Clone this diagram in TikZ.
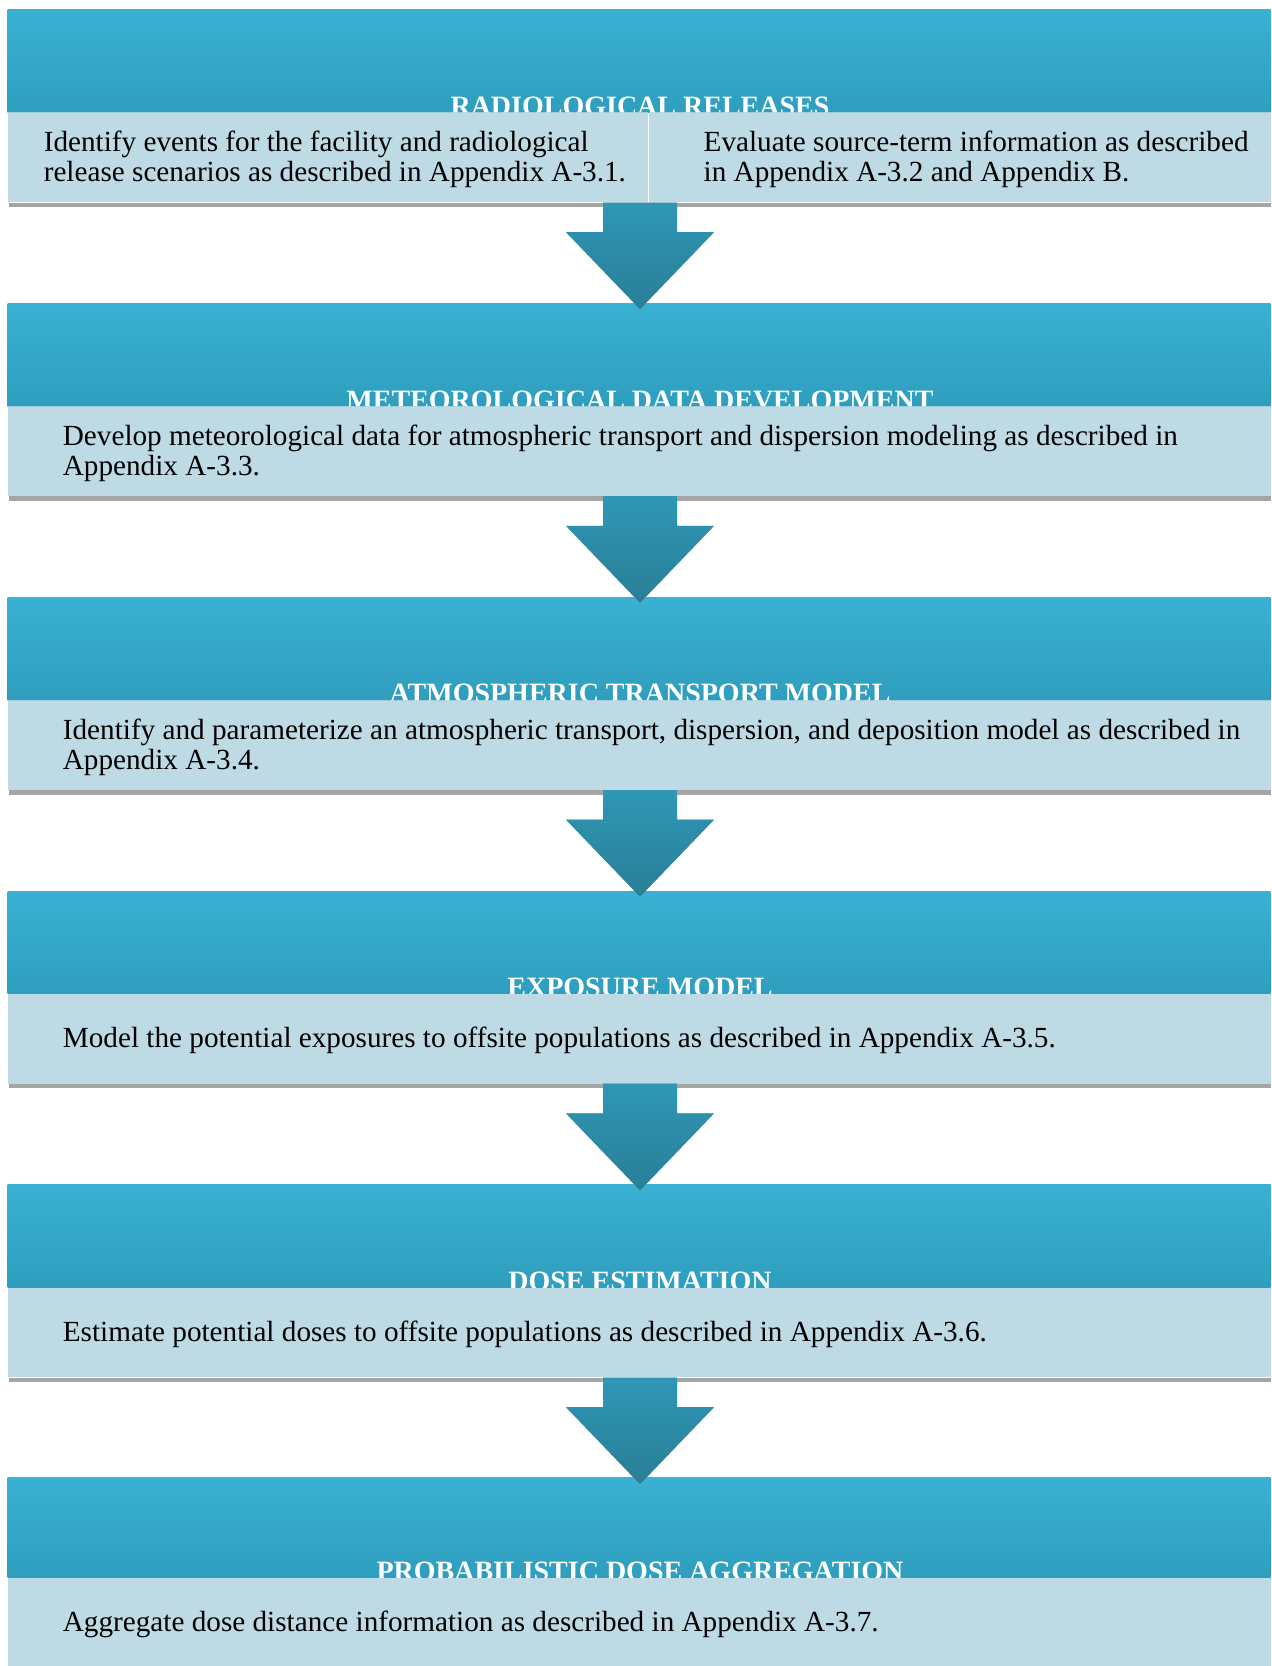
\documentclass[tikz,border=0pt]{standalone}
\usepackage{fontspec}
\setmainfont{Liberation Serif}
\usetikzlibrary{calc}
\definecolor{hdtop}{RGB}{57,177,211}
\definecolor{hdbot}{RGB}{47,158,190}
\definecolor{lite}{RGB}{179,213,224}
\definecolor{arrtop}{RGB}{47,151,181}
\definecolor{arrbot}{RGB}{41,126,151}
\definecolor{shad}{RGB}{165,165,165}
\tikzset{
  hdr/.style={top color=hdtop, bottom color=hdbot, draw=none, anchor=north west, inner sep=0, minimum width=1263bp},
  litebox/.style={fill=lite, fill opacity=0.85, draw=none, anchor=north west, inner sep=0, minimum height=89.8bp},
  shadowstrip/.style={fill=shad, draw=none},
  hdtext/.style={font=\fontsize{28bp}{30bp}\selectfont\bfseries, text=white, anchor=base, inner sep=0},
  bodytext/.style={font=\fontsize{29.2bp}{30bp}\selectfont, anchor=base west, align=left, inner sep=0},
  arrowbody/.style={top color=arrtop, bottom color=arrbot, draw=none},
  arrowshadow/.style={fill=shad, draw=none},
}
\newcommand\dnarrow[1]{%
  \path[arrowshadow, shift={(0,4.5)}] (#1) ++(-37,0) -- ++(74,0) -- ++(0,29.7) -- ++(37,0) -- ++(-74,77) -- ++(-74,-77) -- ++(37,0) -- cycle;
  \path[arrowbody] (#1) ++(-37,0) -- ++(74,0) -- ++(0,29.7) -- ++(37,0) -- ++(-74,77) -- ++(-74,-77) -- ++(37,0) -- cycle;
}
\begin{document}
\begin{tikzpicture}[x=1bp,y=-1bp]
\useasboundingbox (0,0) rectangle (1271,1666);
\coordinate (ax) at (640,0);
% headers
\node[hdr, minimum height=103bp] (h1) at (7.5,9.3) {};
\node[hdr, minimum height=103bp] (h2) at (7.5,303) {};
\node[hdr, minimum height=103bp] (h3) at (7.5,596.8) {};
\node[hdr, minimum height=102.7bp] (h4) at (7.5,890.8) {};
\node[hdr, minimum height=102.7bp] (h5) at (7.5,1184.6) {};
\node[hdr, minimum height=99.6bp] (h6) at (7.5,1477.7) {};
\node[hdtext] (h1t) at (640,115.3) {RADIOLOGICAL RELEASES};
\node[hdtext] (h2t) at (640,409) {METEOROLOGICAL DATA DEVELOPMENT};
\node[hdtext] (h3t) at (640,702.8) {ATMOSPHERIC TRANSPORT MODEL};
\node[hdtext] (h4t) at (640,996.5) {EXPOSURE MODEL};
\node[hdtext] (h5t) at (640,1290.3) {DOSE ESTIMATION};
\node[hdtext] (h6t) at (640,1580.3) {PROBABILISTIC DOSE AGGREGATION};
% light boxes
\node[litebox, minimum width=640bp] (l1a) at (7.5,112.3) {};
\node[litebox, minimum width=621.5bp] (l1b) at (649,112.3) {};
\node[litebox, minimum width=1263bp] (l2) at (7.5,406) {};
\node[litebox, minimum width=1263bp] (l3) at (7.5,699.8) {};
\node[litebox, minimum width=1263bp] (l4) at (7.5,993.5) {};
\node[litebox, minimum width=1263bp] (l5) at (7.5,1287.3) {};
\node[litebox, minimum width=1263bp] (l6) at (7.5,1577.3) {};
% shadow strips
\fill[shadowstrip] (l1a.south west) ++(1,0) rectangle ([yshift=-4.5bp]l1b.south east);
\foreach \b in {l2,l3,l4,l5}{
  \fill[shadowstrip] (\b.south west) ++(1,0) rectangle ([yshift=-4.5bp]\b.south east);
}
% body texts (base anchor = baseline of the last line)
\node[bodytext] (t1a) at (43.6,181.8) {Identify events for the facility and radiological\\release scenarios as described in Appendix A-3.1.};
\node[bodytext] (t1b) at (703.5,181.8) {Evaluate source-term information as described\\in Appendix A-3.2 and Appendix B.};
\node[bodytext] (t2) at (62.7,475.5) {Develop meteorological data for atmospheric transport and dispersion modeling as described in\\Appendix A-3.3.};
\node[bodytext] (t3) at (62.7,769.3) {Identify and parameterize an atmospheric transport, dispersion, and deposition model as described in\\Appendix A-3.4.};
\node[bodytext] (t4) at (62.7,1047.3) {Model the potential exposures to offsite populations as described in Appendix A-3.5.};
\node[bodytext] (t5) at (62.7,1341.5) {Estimate potential doses to offsite populations as described in Appendix A-3.6.};
\node[bodytext] (t6) at (62.7,1631.5) {Aggregate dose distance information as described in Appendix A-3.7.};
% arrows
\coordinate (s1) at (l1a.south -| ax);
\coordinate (s2) at (l2.south -| ax);
\coordinate (s3) at (l3.south -| ax);
\coordinate (s4) at (l4.south -| ax);
\coordinate (s5) at (l5.south -| ax);
\dnarrow{s1}
\dnarrow{s2}
\dnarrow{s3}
\dnarrow{s4}
\dnarrow{s5}
\end{tikzpicture}
\end{document}
